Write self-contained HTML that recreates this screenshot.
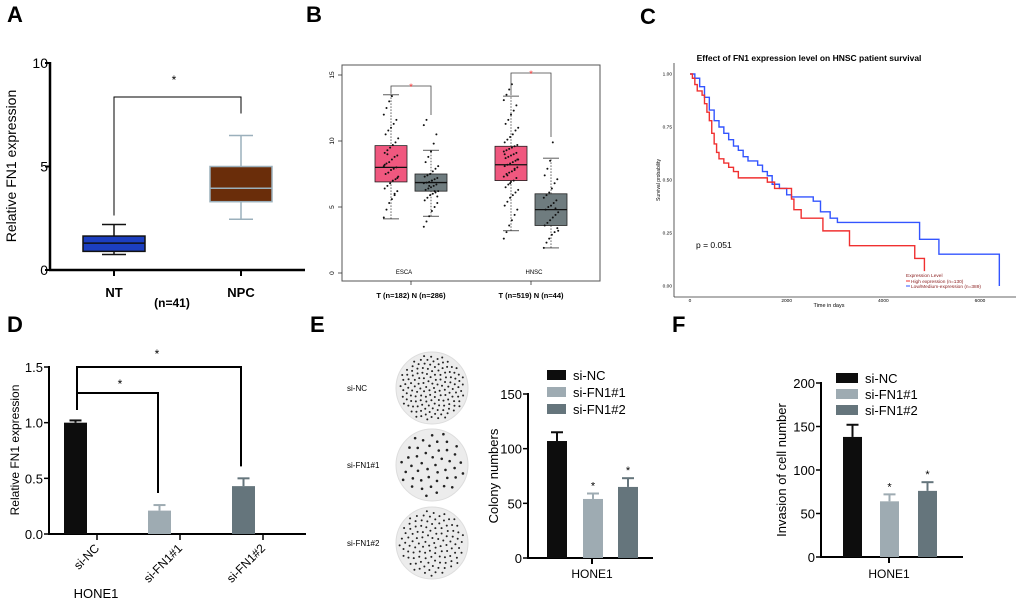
<!DOCTYPE html>
<html><head><meta charset="utf-8"><style>
html,body{margin:0;padding:0;background:#fff}
svg{display:block;font-family:"Liberation Sans",Arial,sans-serif}
</style></head><body>
<svg id="fig" width="1020" height="604" viewBox="0 0 1020 604">
<g font-weight="bold" font-size="22" fill="#000">
<text x="7" y="22">A</text>
<text x="306" y="22">B</text>
<text x="640" y="24">C</text>
<text x="7" y="332">D</text>
<text x="310" y="332">E</text>
<text x="672" y="332">F</text>
</g>
<g id="pa">
<text transform="translate(16,166) rotate(-90)" text-anchor="middle" font-size="14">Relative FN1 expression</text>
<text x="172" y="307" text-anchor="middle" font-size="12" font-weight="bold">(n=41)</text>
</g>
<g id="pb"></g>
<g id="pc">
<text x="809" y="61" text-anchor="middle" font-size="8.5" font-weight="bold">Effect of FN1 expression level on HNSC patient survival</text>
<text transform="translate(660,180) rotate(-90)" text-anchor="middle" font-size="5">Survival probability</text>
<text x="829" y="307" text-anchor="middle" font-size="5.5">Time in days</text>
<text x="696" y="248" font-size="8.5">p = 0.051</text>
<g font-size="4.8" fill="#8b2020">
<text x="906" y="277">Expression Level</text>
<line x1="906" y1="281" x2="910" y2="281" stroke="#f03030" stroke-width="1"/>
<text x="911" y="283">High expression (n=130)</text>
<line x1="906" y1="286" x2="910" y2="286" stroke="#3355ff" stroke-width="1"/>
<text x="911" y="288">Low/Medium-expression (n=389)</text>
</g>
</g>
<g id="pd">
<text transform="translate(19,450) rotate(-90)" text-anchor="middle" font-size="12">Relative FN1 expression</text>
<text x="96" y="598" text-anchor="middle" font-size="13">HONE1</text>
</g>
<g id="pe">
<text transform="translate(498,476) rotate(-90)" text-anchor="middle" font-size="13">Colony numbers</text>
<text x="592" y="578" text-anchor="middle" font-size="12">HONE1</text>
</g>
<g id="pf">
<text transform="translate(786,470) rotate(-90)" text-anchor="middle" font-size="13">Invasion of cell number</text>
<text x="889" y="578" text-anchor="middle" font-size="12">HONE1</text>
</g>
</svg>
<script>
const aCategories = ["NT", "NPC"];
const aWhiskLow = [0.75, 2.45];
const aQ1 = [0.9, 3.3];
const aMedian = [1.3, 3.95];
const aQ3 = [1.64, 5.0];
const aWhiskHigh = [2.2, 6.5];
const aTicks = [0, 5, 10];
const bGroups = ["ESCA T", "ESCA N", "HNSC T", "HNSC N"];
const bWhiskLow = [4.1, 4.3, 3.2, 1.9];
const bQ1 = [6.9, 6.2, 7.0, 3.6];
const bMedian = [8.0, 6.85, 8.2, 4.8];
const bQ3 = [9.65, 7.5, 9.6, 6.0];
const bWhiskHigh = [13.5, 9.3, 13.4, 8.7];
const bTicks = [0, 5, 10, 15];
const bPointsEscaT = [4.2,4.8,5.3,5.6,5.9,6.2,6.4,6.6,6.8,7.0,7.1,7.3,7.5,7.6,7.8,7.9,8.0,8.1,8.3,8.4,8.6,8.8,8.9,9.1,9.3,9.5,9.7,9.9,10.2,10.5,10.8,11.0,11.3,11.6,12.0,12.5,13.0,13.4,6.0,7.2,8.2,9.0];
const bPointsEscaN = [3.5,3.9,4.3,4.7,5.0,5.3,5.5,5.7,5.9,6.0,6.1,6.2,6.3,6.4,6.5,6.6,6.7,6.8,6.85,6.9,7.0,7.1,7.2,7.3,7.4,7.5,7.7,7.9,8.1,8.4,8.8,9.2,9.8,10.5,11.2,11.6,6.6,7.0,6.2,5.8];
const bPointsHnscT = [2.6,3.1,3.6,4.0,4.4,4.8,5.1,5.4,5.7,5.9,6.1,6.3,6.5,6.7,6.9,7.0,7.2,7.3,7.5,7.6,7.7,7.9,8.0,8.1,8.2,8.3,8.4,8.5,8.6,8.7,8.8,8.9,9.0,9.1,9.2,9.3,9.4,9.5,9.6,9.7,9.9,10.1,10.3,10.5,10.8,11.0,11.3,11.6,12.0,12.3,12.7,13.1,13.5,13.9,14.3,7.8,8.6,9.0,7.4,6.8];
const bPointsHnscN = [1.9,2.3,2.6,2.9,3.1,3.4,3.6,3.8,4.0,4.2,4.4,4.6,4.8,5.0,5.1,5.3,5.5,5.7,5.9,6.1,6.4,6.8,7.1,7.4,7.9,8.5,9.9,4.9,3.2];
const cHighTime = [0,50,100,150,250,300,350,400,450,500,550,600,700,800,900,1000,1600,1750,2100,2150,2300,2750,3300,4650,4850];
const cHighSurv = [1,0.98,0.95,0.92,0.90,0.86,0.82,0.78,0.72,0.67,0.63,0.60,0.58,0.56,0.54,0.51,0.49,0.46,0.41,0.36,0.32,0.26,0.19,0.13,0.07];
const cLowTime = [0,100,200,300,400,500,600,700,800,900,1000,1100,1200,1400,1500,1600,1700,1850,2000,2100,2550,2700,2900,3050,4750,5150,6400];
const cLowSurv = [1,0.98,0.94,0.89,0.83,0.78,0.75,0.72,0.69,0.66,0.64,0.61,0.59,0.57,0.54,0.52,0.48,0.46,0.43,0.42,0.40,0.35,0.32,0.30,0.22,0.15,0];
const cXTicks = [0, 2000, 4000, 6000];
const cYTicks = [0, 0.25, 0.5, 0.75, 1.0];
const cYTickLabels = ["0.00","0.25","0.50","0.75","1.00"];
const dCategories = ["si-NC", "si-FN1#1", "si-FN1#2"];
const dValues = [1.0, 0.21, 0.43];
const dErrors = [0.02, 0.05, 0.07];
const dTicks = [0, 0.5, 1.0, 1.5];
const dTickLabels = ["0.0","0.5","1.0","1.5"];
const eCategories = ["si-NC", "si-FN1#1", "si-FN1#2"];
const eValues = [107, 54, 65];
const eErrors = [8, 5, 8];
const eTicks = [0, 50, 100, 150];
const fCategories = ["si-NC", "si-FN1#1", "si-FN1#2"];
const fValues = [138, 64, 76];
const fErrors = [14, 8, 10];
const fTicks = [0, 50, 100, 150, 200];
const barColors = ["#0d0d0d", "#9eabb2", "#65757c"];

const NS = "http://www.w3.org/2000/svg";
function mk(parent, tag, attrs, txt) {
  const e = document.createElementNS(NS, tag);
  for (const k in attrs) e.setAttribute(k, attrs[k]);
  if (txt !== undefined) e.textContent = txt;
  parent.appendChild(e);
  return e;
}
function lin(d0, d1, r0, r1) { return v => r0 + (v - d0) * (r1 - r0) / (d1 - d0); }

(function () {
  const g = document.getElementById("pa");
  const y = lin(0, 10, 270, 63);
  const xc = [114, 241];
  const fills = ["#1c3fc0", "#6a2d0a"];
  const strokes = ["#111", "#9bb0bc"];
  let e;
  e = mk(g, "line", {x1: 50, y1: 62, x2: 50, y2: 271, stroke: "#000", "stroke-width": 2.5});
  
  
  e = mk(g, "line", {x1: 49, y1: 270, x2: 305, y2: 270, stroke: "#000", "stroke-width": 2.5});
  
  
  aTicks.forEach(t => {
    e = mk(g, "line", {x1: 45, y1: y(t), x2: 50, y2: y(t), stroke: "#000", "stroke-width": 2});
    
    
    e = mk(g, "text", {x: 48, y: y(t) + 5, "text-anchor": "end", "font-size": 14}, String(t));
    
    
  });
  aCategories.forEach((c, i) => {
    const x = xc[i];
    e = mk(g, "line", {x1: x, y1: 270, x2: x, y2: 276, stroke: "#000", "stroke-width": 2});
    
    
    e = mk(g, "text", {x: x, y: 297, "text-anchor": "middle", "font-size": 13, "font-weight": "bold"}, c);
    
    
    e = mk(g, "line", {x1: x, y1: y(aWhiskLow[i]), x2: x, y2: y(aWhiskHigh[i]), stroke: strokes[i], "stroke-width": 1.5});
    
    
    [aWhiskLow[i], aWhiskHigh[i]].forEach(v => {
      e = mk(g, "line", {x1: x - 12, y1: y(v), x2: x + 12, y2: y(v), stroke: strokes[i], "stroke-width": 1.5});
      
      
    });
    e = mk(g, "rect", {x: x - 31, y: y(aQ3[i]), width: 62, height: y(aQ1[i]) - y(aQ3[i]), fill: fills[i], stroke: strokes[i], "stroke-width": 1.5});
    
    
    e = mk(g, "line", {x1: x - 31, y1: y(aMedian[i]), x2: x + 31, y2: y(aMedian[i]), stroke: strokes[i], "stroke-width": 1.5});
    
    
  });
  e = mk(g, "path", {d: `M114 ${y(aWhiskHigh[0]) - 9} V97 H241 V${y(aWhiskHigh[1]) - 22}`, fill: "none", stroke: "#000", "stroke-width": 1});
  
  
  e = mk(g, "text", {x: 174, y: 84, "text-anchor": "middle", "font-size": 12}, "*");
  
  
})();

(function () {
  const g = document.getElementById("pb");
  const y = lin(0, 15, 273, 75);
  const xc = [391, 431, 511, 551];
  const fills = ["#f0587f", "#6f7c7f", "#f0587f", "#6f7c7f"];
  const pts = [bPointsEscaT, bPointsEscaN, bPointsHnscT, bPointsHnscN];
  let e;
  e = mk(g, "rect", {x: 342, y: 65, width: 258, height: 216, fill: "none", stroke: "#555", "stroke-width": 1});
  
  
  bTicks.forEach(t => {
    e = mk(g, "line", {x1: 338, y1: y(t), x2: 342, y2: y(t), stroke: "#333", "stroke-width": 0.8});
    
    
    e = mk(g, "text", {transform: `translate(334,${y(t)}) rotate(-90)`, "text-anchor": "middle", "font-size": 6.5}, String(t));
    
    
  });
  bGroups.forEach((gname, i) => {
    const x = xc[i];
    e = mk(g, "line", {x1: x, y1: y(bWhiskLow[i]), x2: x, y2: y(bWhiskHigh[i]), stroke: "#333", "stroke-width": 0.8, "stroke-dasharray": "1.5,1.5"});
    
    
    [bWhiskLow[i], bWhiskHigh[i]].forEach(v => {
      e = mk(g, "line", {x1: x - 8, y1: y(v), x2: x + 8, y2: y(v), stroke: "#333", "stroke-width": 0.8});
      
      
    });
    e = mk(g, "rect", {x: x - 16, y: y(bQ3[i]), width: 32, height: y(bQ1[i]) - y(bQ3[i]), fill: fills[i], stroke: "#222", "stroke-width": 0.8});
    
    
    e = mk(g, "line", {x1: x - 16, y1: y(bMedian[i]), x2: x + 16, y2: y(bMedian[i]), stroke: "#111", "stroke-width": 1.3});
    
    
    pts[i].forEach((v, k) => {
      const off = ((k * 37) % 17 - 8) * 0.9;
      e = mk(g, "circle", {cx: x + off, cy: y(v), r: 1.0, fill: "#111"});
      
      
    });
  });
  [[0, 1, 86], [2, 3, 73]].forEach(([a, b, top]) => {
    e = mk(g, "path", {d: `M${xc[a]} ${y(bWhiskHigh[a]) - 1} V${top} H${xc[b]} V${top + (b === 1 ? 29 : 64)}`, fill: "none", stroke: "#444", "stroke-width": 0.8});
    
    
    e = mk(g, "text", {x: (xc[a] + xc[b]) / 2, y: top + 4, "text-anchor": "middle", "font-size": 9, fill: "#ff3030"}, "*");
    
    
  });
  [["ESCA", 404], ["HNSC", 534]].forEach(([t, x]) => {
    e = mk(g, "text", {x: x, y: 274, "text-anchor": "middle", "font-size": 6}, t);
    
    
  });
  [[411, "T (n=182)   N (n=286)"], [531, "T (n=519)   N (n=44)"]].forEach(([x, t]) => {
    e = mk(g, "line", {x1: x, y1: 281, x2: x, y2: 285, stroke: "#333", "stroke-width": 0.8});
    
    
    e = mk(g, "text", {x: x, y: 298, "text-anchor": "middle", "font-size": 7.5, "font-weight": "bold", "xml:space": "preserve"}, t);
    
    
  });
})();

(function () {
  const g = document.getElementById("pc");
  const x = lin(0, 6000, 690, 980);
  const y = lin(0, 1, 286, 74);
  let e;
  e = mk(g, "line", {x1: 674, y1: 63, x2: 674, y2: 297, stroke: "#333", "stroke-width": 0.8});
  
  
  e = mk(g, "line", {x1: 674, y1: 297, x2: 1016, y2: 297, stroke: "#333", "stroke-width": 0.8});
  
  
  cYTicks.forEach((t, i) => {
    e = mk(g, "text", {x: 672, y: y(t) + 1.7, "text-anchor": "end", "font-size": 4.8}, cYTickLabels[i]);
    
    
  });
  cXTicks.forEach(t => {
    e = mk(g, "text", {x: x(t), y: 302, "text-anchor": "middle", "font-size": 4.8}, String(t));
    
    
  });
  function step(T, S) {
    let d = `M${x(T[0])} ${y(S[0])}`;
    for (let i = 1; i < T.length; i++) d += ` H${x(T[i])} V${y(S[i])}`;
    return d;
  }
  e = mk(g, "path", {d: step(cLowTime, cLowSurv), fill: "none", stroke: "#3355ff", "stroke-width": 1.4});
  
  
  e = mk(g, "path", {d: step(cHighTime, cHighSurv), fill: "none", stroke: "#f03030", "stroke-width": 1.4});
  
  
})();

function barPanel(cfg) {
  const g = document.getElementById(cfg.id);
  const y = lin(0, cfg.max, cfg.y0, cfg.yTop);
  let e;
  e = mk(g, "line", {x1: cfg.ax, y1: cfg.yTop - 1, x2: cfg.ax, y2: cfg.y0 + 1, stroke: "#000", "stroke-width": 2});
  
  
  e = mk(g, "line", {x1: cfg.ax - 1, y1: cfg.y0, x2: cfg.xEnd, y2: cfg.y0, stroke: "#000", "stroke-width": 2});
  
  
  cfg.ticks.forEach((t, i) => {
    e = mk(g, "line", {x1: cfg.ax - 5, y1: y(t), x2: cfg.ax, y2: y(t), stroke: "#000", "stroke-width": 1.5});
    
    
    e = mk(g, "text", {x: cfg.ax - 6, y: y(t) + 5, "text-anchor": "end", "font-size": 13}, cfg.tickLabels ? cfg.tickLabels[i] : String(t));
    
    
  });
  cfg.cats.forEach((c, i) => {
    const bx = cfg.barX[i];
    const top = y(cfg.vals[i]);
    const cx = bx + cfg.bw / 2;
    e = mk(g, "line", {x1: cx, y1: y(cfg.vals[i] + cfg.errs[i]), x2: cx, y2: top, stroke: barColors[i], "stroke-width": 2});
    
    
    e = mk(g, "line", {x1: cx - 6, y1: y(cfg.vals[i] + cfg.errs[i]), x2: cx + 6, y2: y(cfg.vals[i] + cfg.errs[i]), stroke: barColors[i], "stroke-width": 2});
    
    
    e = mk(g, "rect", {x: bx, y: top, width: cfg.bw, height: cfg.y0 - top, fill: barColors[i]});
    
    
    if (cfg.stars && i > 0) {
      e = mk(g, "text", {x: cx, y: y(cfg.vals[i] + cfg.errs[i]) - 4, "text-anchor": "middle", "font-size": 11}, "*");
      
      
    }
  });
  return {g, y};
}

(function () {
  const r = barPanel({id: "pd", p: "d", max: 1.5, y0: 534, yTop: 367, ax: 49, xEnd: 306, ticks: dTicks, tickLabels: dTickLabels,
    cats: dCategories, vals: dValues, errs: dErrors, barX: [64, 148, 232], bw: 23});
  const g = r.g, y = r.y;
  const ticksX = [97, 180, 263];
  let e;
  dCategories.forEach((c, i) => {
    e = mk(g, "line", {x1: ticksX[i], y1: 534, x2: ticksX[i], y2: 540, stroke: "#000", "stroke-width": 1.5});
    
    
    e = mk(g, "text", {transform: `translate(${ticksX[i] + 3},${549}) rotate(-45)`, "text-anchor": "end", "font-size": 12}, c);
    
    
  });
  e = mk(g, "path", {d: `M77 410 V367 H241 V${y(dValues[2] + dErrors[2]) - 12}`, fill: "none", stroke: "#000", "stroke-width": 2});
  
  
  e = mk(g, "path", {d: `M77 393 H158 V${y(dValues[1] + dErrors[1]) - 12}`, fill: "none", stroke: "#000", "stroke-width": 2});
  
  
  e = mk(g, "text", {x: 157, y: 358, "text-anchor": "middle", "font-size": 12}, "*");
  
  
  e = mk(g, "text", {x: 120, y: 388, "text-anchor": "middle", "font-size": 12}, "*");
  
  
})();

(function () {
  const r = barPanel({id: "pe", p: "e", max: 150, y0: 558, yTop: 394, ax: 528, xEnd: 653, ticks: eTicks,
    cats: eCategories, vals: eValues, errs: eErrors, barX: [547, 583, 618], bw: 20, stars: true});
  const g = r.g;
  let e;
  e = mk(g, "line", {x1: 592, y1: 558, x2: 592, y2: 564, stroke: "#000", "stroke-width": 2});
  
  
  eCategories.forEach((c, i) => {
    const ly = 375 + i * 17;
    e = mk(g, "rect", {x: 547, y: ly - 5, width: 19, height: 10, fill: barColors[i]});
    
    
    e = mk(g, "text", {x: 573, y: ly + 5, "font-size": 13}, c);
    
    
    const cy = [388, 465, 543][i];
    e = mk(g, "circle", {cx: 432, cy: cy, r: 36, fill: "#ececec", stroke: "#ddd"});
    
    
    const n = [140, 45, 110][i];
    for (let k = 0; k < n; k++) {
      const a = k * 2.39996, rr = 33 * Math.sqrt((k + 0.5) / n);
      e = mk(g, "circle", {cx: 432 + rr * Math.cos(a), cy: cy + rr * Math.sin(a), r: i === 1 ? 1.3 : 1.0, fill: "#222"});
      
      
    }
    e = mk(g, "text", {x: 347, y: cy + 3, "font-size": 8}, c);
    
    
  });
})();

(function () {
  const r = barPanel({id: "pf", p: "f", max: 200, y0: 557, yTop: 383, ax: 821, xEnd: 963, ticks: fTicks,
    cats: fCategories, vals: fValues, errs: fErrors, barX: [843, 880, 918], bw: 19, stars: true});
  const g = r.g;
  let e;
  e = mk(g, "line", {x1: 889, y1: 557, x2: 889, y2: 563, stroke: "#000", "stroke-width": 2});
  
  
  fCategories.forEach((c, i) => {
    const ly = 378 + i * 16;
    e = mk(g, "rect", {x: 836, y: ly - 5, width: 22, height: 10, fill: barColors[i]});
    
    
    e = mk(g, "text", {x: 865, y: ly + 5, "font-size": 13}, c);
    
    
  });
})();
</script>
</body></html>
